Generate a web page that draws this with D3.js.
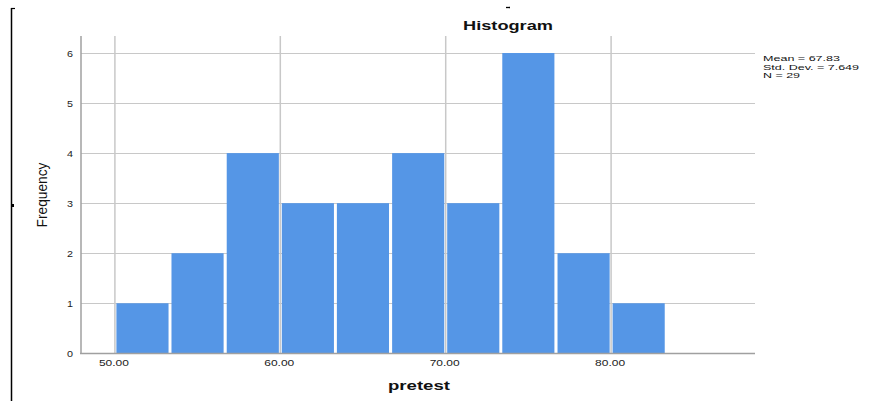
<!DOCTYPE html>
<html><head><meta charset="utf-8">
<script src="https://cdn.jsdelivr.net/npm/d3@7"></script>
<style>body{margin:0;background:#fff}svg{display:block}</style>
</head><body>
<script>
const binStarts = [50.00, 53.33, 56.67, 60.00, 63.33, 66.67, 70.00, 73.33, 76.67, 80.00];
const binWidth = 3.333;
const counts = [1, 2, 4, 3, 3, 4, 3, 6, 2, 1];
const xTicks = [50, 60, 70, 80];
const yTicks = [0, 1, 2, 3, 4, 5, 6];
const statsLines = ["Mean = 67.83", "Std. Dev. = 7.649", "N = 29"];

const W = 880, H = 401;
const svg = d3.select("body").append("svg").attr("width", W).attr("height", H);
const x = d3.scaleLinear().domain([47.95, 88.7]).range([81, 755]);
const y = d3.scaleLinear().domain([0, 6.34]).range([353.3, 36]);
const font = "Arial, 'Liberation Sans', sans-serif";

// frame bits at left
svg.append("line").attr("x1", 11.5).attr("x2", 11.5).attr("y1", 8).attr("y2", 401).attr("stroke", "#000").attr("stroke-width", 1.5);
svg.append("line").attr("x1", 11).attr("x2", 15).attr("y1", 8.5).attr("y2", 8.5).attr("stroke", "#000").attr("stroke-width", 1.2);
svg.append("rect").attr("x", 11).attr("y", 204).attr("width", 3).attr("height", 3).attr("fill", "#000");
svg.append("line").attr("x1", 506).attr("x2", 510).attr("y1", 7.5).attr("y2", 7.5).attr("stroke", "#000").attr("stroke-width", 1.3);

// grid
const g = svg.append("g");
g.selectAll(".hg").data(yTicks.filter(d => d > 0)).join("line")
  .attr("x1", 81).attr("x2", 755).attr("y1", d => Math.round(y(d)) + 0.5).attr("y2", d => Math.round(y(d)) + 0.5)
  .attr("stroke", "#c8c8c8").attr("stroke-width", 1);
g.selectAll(".vg").data(xTicks).join("line")
  .attr("x1", d => x(d)).attr("x2", d => x(d)).attr("y1", 36).attr("y2", 353)
  .attr("stroke", "#c8c8c8").attr("stroke-width", 1.5);

// bars
svg.selectAll(".bar").data(counts).join("rect")
  .attr("x", (d, i) => x(binStarts[i]) + 1.5)
  .attr("width", (d, i) => x(binStarts[i] + binWidth) - x(binStarts[i]) - 3)
  .attr("y", d => y(d))
  .attr("height", d => y(0) - y(d))
  .attr("fill", "#5596e6");

// axes lines
svg.append("line").attr("x1", 81).attr("x2", 81).attr("y1", 36).attr("y2", 354).attr("stroke", "#a0a0a0").attr("stroke-width", 1.5);
svg.append("line").attr("x1", 80).attr("x2", 755).attr("y1", 353.5).attr("y2", 353.5).attr("stroke", "#a0a0a0").attr("stroke-width", 1.5);

// y tick labels
svg.selectAll(".yl").data(yTicks).join("text")
  .attr("x", 73).attr("y", d => y(d) + 3.5).attr("text-anchor", "end")
  .attr("font-family", font).attr("font-size", 9).attr("fill", "#222")
  .attr("textLength", 6).attr("lengthAdjust", "spacingAndGlyphs").text(d => d);

// x tick labels
svg.selectAll(".xl").data(xTicks).join("text")
  .attr("x", d => x(d) - 1).attr("y", 366).attr("text-anchor", "middle")
  .attr("font-family", font).attr("font-size", 8.5).attr("fill", "#222")
  .attr("textLength", 30).attr("lengthAdjust", "spacingAndGlyphs").text(d => d.toFixed(2));

// titles
svg.append("text").attr("x", 508).attr("y", 30).attr("text-anchor", "middle")
  .attr("font-family", font).attr("font-weight", "bold").attr("font-size", 13).attr("fill", "#111")
  .attr("textLength", 90).attr("lengthAdjust", "spacingAndGlyphs").text("Histogram");
svg.append("text").attr("x", 419).attr("y", 390).attr("text-anchor", "middle")
  .attr("font-family", font).attr("font-weight", "bold").attr("font-size", 13).attr("fill", "#111")
  .attr("textLength", 62).attr("lengthAdjust", "spacingAndGlyphs").text("pretest");
svg.append("text").attr("transform", "translate(47,195) rotate(-90)").attr("text-anchor", "middle")
  .attr("font-family", font).attr("font-size", 14).attr("fill", "#111")
  .attr("textLength", 65).attr("lengthAdjust", "spacingAndGlyphs").text("Frequency");

// stats
const sw = [77, 96, 37];
svg.selectAll(".st").data(statsLines).join("text")
  .attr("x", 763).attr("y", (d, i) => 61 + i * 8.5)
  .attr("font-family", font).attr("font-size", 7.4).attr("fill", "#111")
  .attr("textLength", (d, i) => sw[i]).attr("lengthAdjust", "spacingAndGlyphs").text(d => d);
</script>
</body></html>
